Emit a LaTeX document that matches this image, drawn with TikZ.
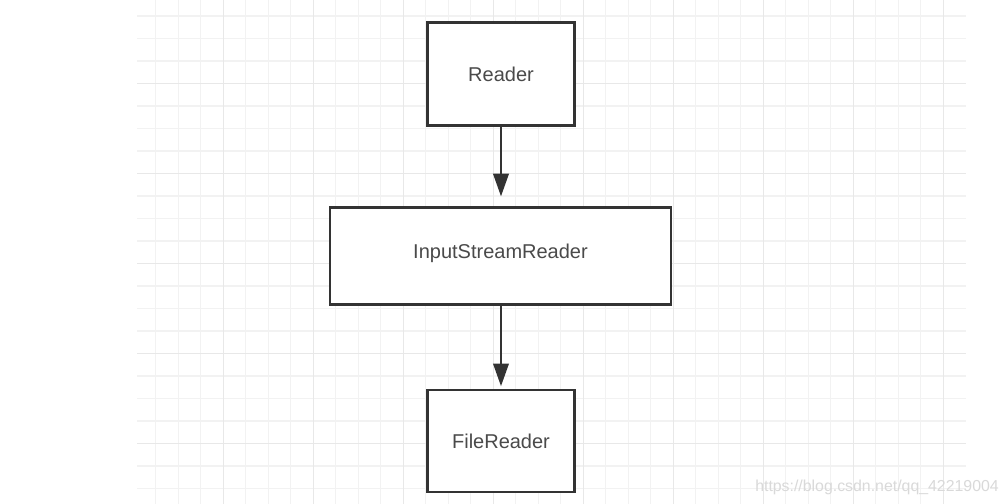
\documentclass[tikz,border=0pt]{standalone}
\usepackage{fontspec}
\setmainfont{Liberation Sans}
\usetikzlibrary{arrows.meta}
\definecolor{gridminor}{HTML}{F2F2F2}
\definecolor{gridmajor}{HTML}{E8E8E8}
\definecolor{boxline}{HTML}{333333}
\definecolor{boxtext}{HTML}{4A4A4A}
\definecolor{wmark}{HTML}{D9D9D9}
\tikzset{
  box/.style={draw=boxline, line width=2.1pt, fill=white, inner sep=0pt, outer sep=0pt,
    text=boxtext, font=\fontsize{15pt}{18pt}\selectfont},
  conn/.style={draw=boxline, line width=1.9pt, -{Triangle[length=17pt,width=11.5pt]}},
  minorline/.style={draw=gridminor, line width=0.9pt},
  majorline/.style={draw=gridmajor, line width=1.2pt},
}
\begin{document}
\begin{tikzpicture}[x=0.75pt,y=-0.75pt]
\useasboundingbox[fill=white] (0,0) rectangle (1008,504);
% grid
\foreach \i in {0,...,35} {
  \draw[minorline] ({155.8+22.5*\i},0) -- ({155.8+22.5*\i},504);
}
\foreach \i in {0,...,21} {
  \draw[minorline] (137,{16+22.5*\i}) -- (966,{16+22.5*\i});
}
\foreach \i in {0,...,8} {
  \draw[majorline] ({223.3+90*\i},0) -- ({223.3+90*\i},504);
}
\foreach \i in {0,...,4} {
  \draw[majorline] (137,{83.5+90*\i}) -- (966,{83.5+90*\i});
}
% boxes
\node[box, minimum width=110.25pt, minimum height=77.25pt] (reader) at (501,74) {Reader};
\node[box, minimum width=255.75pt, minimum height=73pt] (isr) at (500.5,256) {\raisebox{7.5pt}{InputStreamReader}};
\node[box, minimum width=110.25pt, minimum height=76.5pt] (file) at (501,441) {FileReader};
% connectors
\draw[conn, shorten >=8.2pt] (reader.south) -- (reader.south |- isr.north);
\draw[conn, shorten >=2.8pt] (isr.south -| file.north) -- (file.north);
% watermark
\node[anchor=base west, inner sep=0pt, text=wmark, font=\fontsize{11.9pt}{14pt}\selectfont] (wm) at (755,491) {https://blog.csdn.net/qq\_42219004};
\end{tikzpicture}
\end{document}
